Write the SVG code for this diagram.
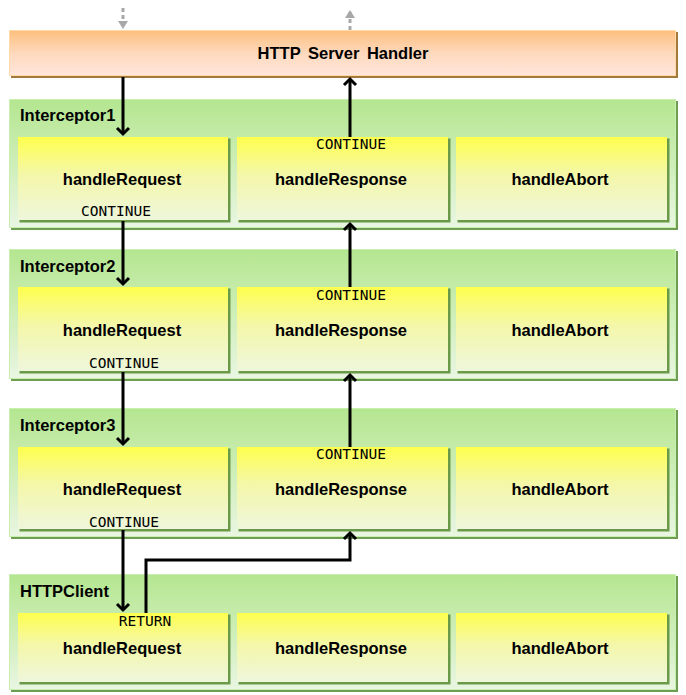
<svg xmlns="http://www.w3.org/2000/svg" width="686" height="695" viewBox="0 0 686 695">
<defs>
<linearGradient id="gOrange" x1="0" y1="0" x2="0" y2="1">
<stop offset="0" stop-color="#fdbf7e"/><stop offset="0.5" stop-color="#fed9bc"/><stop offset="1" stop-color="#ffe6dc"/>
</linearGradient>
<linearGradient id="gGreen" x1="0" y1="0" x2="0" y2="1">
<stop offset="0" stop-color="#b4e690"/><stop offset="0.3" stop-color="#c4eba8"/><stop offset="1" stop-color="#e9f6e2"/>
</linearGradient>
<linearGradient id="gYellow" x1="0" y1="0" x2="0" y2="1">
<stop offset="0" stop-color="#ffff4e"/><stop offset="0.45" stop-color="#f4f7a8"/><stop offset="1" stop-color="#eef6dc"/>
</linearGradient>
<marker id="chev" markerUnits="userSpaceOnUse" viewBox="-12 -8 16 16" markerWidth="16" markerHeight="16" refX="0" refY="0" orient="auto">
<path d="M-6,-6 L0,0 L-6,6" fill="none" stroke="#000" stroke-width="3"/>
</marker>
<marker id="gray" markerUnits="userSpaceOnUse" viewBox="-10 -6 12 12" markerWidth="12" markerHeight="12" refX="0" refY="0" orient="auto">
<path d="M-8,-5 L0,0 L-8,5 Z" fill="#a8a8a8"/>
</marker>
</defs>
<style>
.sh-o{fill:#a47a3c}
.sh-g{fill:#6e9e52}
.sh-y{fill:#6a9a48}
.orange{fill:url(#gOrange);stroke:#ffd9a8;stroke-width:1}
.grp{fill:url(#gGreen);stroke:#c8eeb0;stroke-width:1}
.box{fill:url(#gYellow)}
.t{font-family:"Liberation Sans",Arial,sans-serif;font-weight:bold;font-size:16.5px;fill:#000}
.m{font-family:"DejaVu Sans Mono","Liberation Mono",monospace;font-size:14.5px;fill:#000;text-anchor:middle}
.c{text-anchor:middle}
.ln{fill:none;stroke:#000;stroke-width:3;marker-end:url(#chev)}
.gl{fill:none;stroke:#a8a8a8;stroke-width:3;stroke-dasharray:4 3;marker-end:url(#gray)}
</style>

<g id="server">
<rect class="sh-o" x="11" y="32" width="667" height="46"/>
<rect class="orange" x="9.5" y="30.5" width="666" height="45"/>
<text class="t c" x="343" y="59" word-spacing="3">HTTP Server Handler</text>
</g>

<g id="interceptor1">
<rect class="sh-g" x="11" y="101" width="667" height="129"/>
<rect class="grp" x="9.5" y="99.5" width="666" height="128"/>
<text class="t" x="20" y="121">Interceptor1</text>
<g id="i1-req"><rect class="sh-y" x="19.5" y="138.5" width="211" height="84"/><rect class="box" x="18" y="137" width="210" height="83"/><text class="t c" x="122" y="185">handleRequest</text></g>
<g id="i1-resp"><rect class="sh-y" x="238.5" y="138.5" width="212" height="84"/><rect class="box" x="237" y="137" width="211" height="83"/><text class="t c" x="341" y="185">handleResponse</text></g>
<g id="i1-abort"><rect class="sh-y" x="457.5" y="138.5" width="212" height="84"/><rect class="box" x="456" y="137" width="211" height="83"/><text class="t c" x="560" y="185">handleAbort</text></g>
</g>

<g id="interceptor2">
<rect class="sh-g" x="11" y="251" width="667" height="130"/>
<rect class="grp" x="9.5" y="249.5" width="666" height="129"/>
<text class="t" x="20" y="272">Interceptor2</text>
<g id="i2-req"><rect class="sh-y" x="19.5" y="288.5" width="211" height="85"/><rect class="box" x="18" y="287" width="210" height="84"/><text class="t c" x="122" y="336">handleRequest</text></g>
<g id="i2-resp"><rect class="sh-y" x="238.5" y="288.5" width="212" height="85"/><rect class="box" x="237" y="287" width="211" height="84"/><text class="t c" x="341" y="336">handleResponse</text></g>
<g id="i2-abort"><rect class="sh-y" x="457.5" y="288.5" width="212" height="85"/><rect class="box" x="456" y="287" width="211" height="84"/><text class="t c" x="560" y="336">handleAbort</text></g>
</g>

<g id="interceptor3">
<rect class="sh-g" x="11" y="410" width="667" height="129"/>
<rect class="grp" x="9.5" y="408.5" width="666" height="128"/>
<text class="t" x="20" y="431">Interceptor3</text>
<g id="i3-req"><rect class="sh-y" x="19.5" y="448.5" width="211" height="83"/><rect class="box" x="18" y="447" width="210" height="82"/><text class="t c" x="122" y="495">handleRequest</text></g>
<g id="i3-resp"><rect class="sh-y" x="238.5" y="448.5" width="212" height="83"/><rect class="box" x="237" y="447" width="211" height="82"/><text class="t c" x="341" y="495">handleResponse</text></g>
<g id="i3-abort"><rect class="sh-y" x="457.5" y="448.5" width="212" height="83"/><rect class="box" x="456" y="447" width="211" height="82"/><text class="t c" x="560" y="495">handleAbort</text></g>
</g>

<g id="httpclient">
<rect class="sh-g" x="11" y="576" width="667" height="116"/>
<rect class="grp" x="9.5" y="574.5" width="666" height="115"/>
<text class="t" x="20" y="597">HTTPClient</text>
<g id="hc-req"><rect class="sh-y" x="19.5" y="614.5" width="211" height="70"/><rect class="box" x="18" y="613" width="210" height="69"/><text class="t c" x="122" y="654">handleRequest</text></g>
<g id="hc-resp"><rect class="sh-y" x="238.5" y="614.5" width="212" height="70"/><rect class="box" x="237" y="613" width="211" height="69"/><text class="t c" x="341" y="654">handleResponse</text></g>
<g id="hc-abort"><rect class="sh-y" x="457.5" y="614.5" width="212" height="70"/><rect class="box" x="456" y="613" width="211" height="69"/><text class="t c" x="560" y="654">handleAbort</text></g>
</g>

<g id="connectors">
<path class="gl" d="M123,8 V29"/>
<path class="gl" d="M350,30 V10"/>
<path class="ln" d="M123,77 V134"/>
<path class="ln" d="M123,221 V284"/>
<path class="ln" d="M123,372 V444"/>
<path class="ln" d="M123,530 V610"/>
<path class="ln" d="M146,613 V560 H350 V533"/>
<path class="ln" d="M350,447 V375"/>
<path class="ln" d="M350,287 V224"/>
<path class="ln" d="M350,137 V79"/>
<text class="m" x="116" y="216">CONTINUE</text>
<text class="m" x="351" y="149">CONTINUE</text>
<text class="m" x="124" y="368">CONTINUE</text>
<text class="m" x="351" y="300">CONTINUE</text>
<text class="m" x="124" y="527">CONTINUE</text>
<text class="m" x="351" y="459">CONTINUE</text>
<text class="m" x="145" y="626">RETURN</text>
</g>
</svg>
